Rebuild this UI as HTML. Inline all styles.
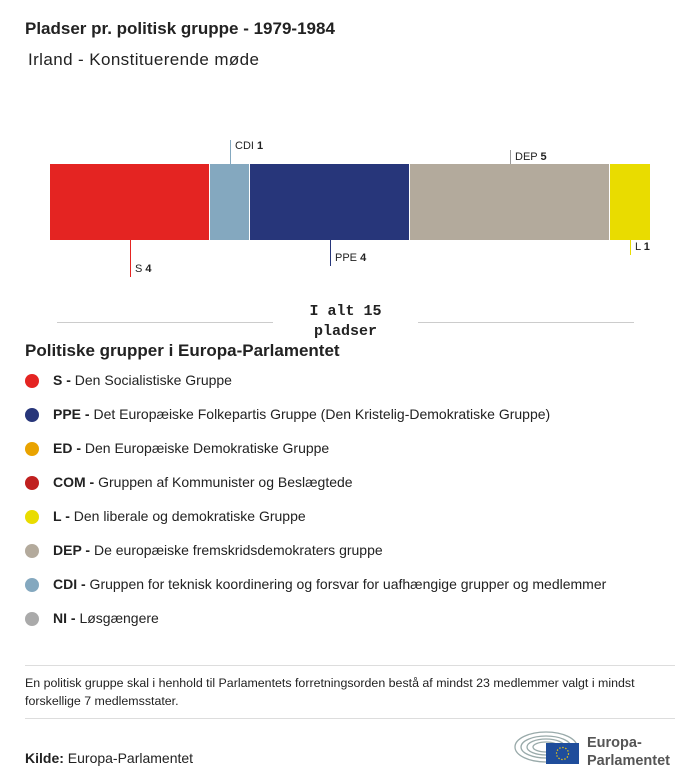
<!DOCTYPE html>
<html><head><meta charset="utf-8"><style>
body{margin:0;width:700px;height:784px;background:#fff;font-family:"Liberation Sans",sans-serif;color:#222;position:relative;overflow:hidden}
.a{position:absolute;white-space:nowrap}
.seg{position:absolute;top:164px;height:76px}
.vl{position:absolute;width:1px}
.lab{position:absolute;font-size:11px;white-space:nowrap}
.dot{position:absolute;left:25px;width:14px;height:14px;border-radius:50%}
.li{position:absolute;left:53px;font-size:14px;white-space:nowrap}
</style></head><body>
<div class="a" style="left:25px;top:19px;font-size:17px;font-weight:bold">Pladser pr. politisk gruppe - 1979-1984</div>
<div class="a" style="left:28px;top:50px;font-size:17px;letter-spacing:0.4px">Irland - Konstituerende møde</div>

<div class="seg" style="left:50px;width:159px;background:#e42422"></div>
<div class="seg" style="left:210px;width:39px;background:#84a8bf"></div>
<div class="seg" style="left:250px;width:159px;background:#27367a"></div>
<div class="seg" style="left:410px;width:199px;background:#b3aa9c"></div>
<div class="seg" style="left:610px;width:40px;background:#e9dc00"></div>

<div class="vl" style="left:230px;top:140px;height:24px;background:#84a8bf"></div>
<div class="lab" style="left:235px;top:140px">CDI <b>1</b></div>
<div class="vl" style="left:510px;top:150px;height:14px;background:#999"></div>
<div class="lab" style="left:515px;top:151px">DEP <b>5</b></div>
<div class="vl" style="left:130px;top:240px;height:37px;background:#e42422"></div>
<div class="lab" style="left:135px;top:263px">S <b>4</b></div>
<div class="vl" style="left:330px;top:240px;height:26px;background:#27367a"></div>
<div class="lab" style="left:335px;top:252px">PPE <b>4</b></div>
<div class="vl" style="left:630px;top:240px;height:15px;background:#e9dc00"></div>
<div class="lab" style="left:635px;top:241px">L <b>1</b></div>

<div class="a" style="left:57px;top:322px;width:216px;height:1px;background:#ccc"></div>
<div class="a" style="left:418px;top:322px;width:216px;height:1px;background:#ccc"></div>
<div class="a" style="left:273px;top:302px;width:145px;text-align:center;font-family:'Liberation Mono',monospace;font-weight:bold;font-size:15px;line-height:20px">I alt 15<br>pladser</div>

<div class="a" style="left:25px;top:341px;font-size:17px;font-weight:bold">Politiske grupper i Europa-Parlamentet</div>

<div class="dot" style="top:374px;background:#e42422"></div><div class="li" style="top:372px"><b>S -</b> Den Socialistiske Gruppe</div>
<div class="dot" style="top:408px;background:#27367a"></div><div class="li" style="top:406px"><b>PPE -</b> Det Europæiske Folkepartis Gruppe (Den Kristelig-Demokratiske Gruppe)</div>
<div class="dot" style="top:442px;background:#e9a300"></div><div class="li" style="top:440px"><b>ED -</b> Den Europæiske Demokratiske Gruppe</div>
<div class="dot" style="top:476px;background:#c0201f"></div><div class="li" style="top:474px"><b>COM -</b> Gruppen af Kommunister og Beslægtede</div>
<div class="dot" style="top:510px;background:#e9dc00"></div><div class="li" style="top:508px"><b>L -</b> Den liberale og demokratiske Gruppe</div>
<div class="dot" style="top:544px;background:#b3aa9c"></div><div class="li" style="top:542px"><b>DEP -</b> De europæiske fremskridsdemokraters gruppe</div>
<div class="dot" style="top:578px;background:#84a8bf"></div><div class="li" style="top:576px"><b>CDI -</b> Gruppen for teknisk koordinering og forsvar for uafhængige grupper og medlemmer</div>
<div class="dot" style="top:612px;background:#aaa"></div><div class="li" style="top:610px"><b>NI -</b> Løsgængere</div>

<div class="a" style="left:25px;top:665px;width:650px;height:1px;background:#ddd"></div>
<div class="a" style="left:25px;top:674px;font-size:12.4px;line-height:18px">En politisk gruppe skal i henhold til Parlamentets forretningsorden bestå af mindst 23 medlemmer valgt i mindst<br>forskellige 7 medlemsstater.</div>
<div class="a" style="left:25px;top:718px;width:650px;height:1px;background:#ddd"></div>
<div class="a" style="left:25px;top:750px;font-size:14px"><b>Kilde:</b> Europa-Parlamentet</div>

<svg class="a" style="left:514px;top:728px" width="70" height="36" viewBox="0 0 70 36">
<g fill="none" stroke="#9aa" stroke-width="1.3">
<ellipse cx="32" cy="19" rx="31" ry="15"/><ellipse cx="32" cy="19" rx="25" ry="11"/><ellipse cx="32" cy="19" rx="19" ry="8"/><ellipse cx="32" cy="19" rx="13" ry="5"/></g>
<rect x="32" y="15" width="33" height="21" fill="#1f4d9b"/>
<circle cx="48.5" cy="25.5" r="6" fill="none" stroke="#ffd200" stroke-width="1.2" stroke-dasharray="1.3 1.8"/>
</svg>
<div class="a" style="left:587px;top:734px;font-size:14.5px;line-height:18px;color:#555;font-weight:bold">Europa-<br>Parlamentet</div>
</body></html>
